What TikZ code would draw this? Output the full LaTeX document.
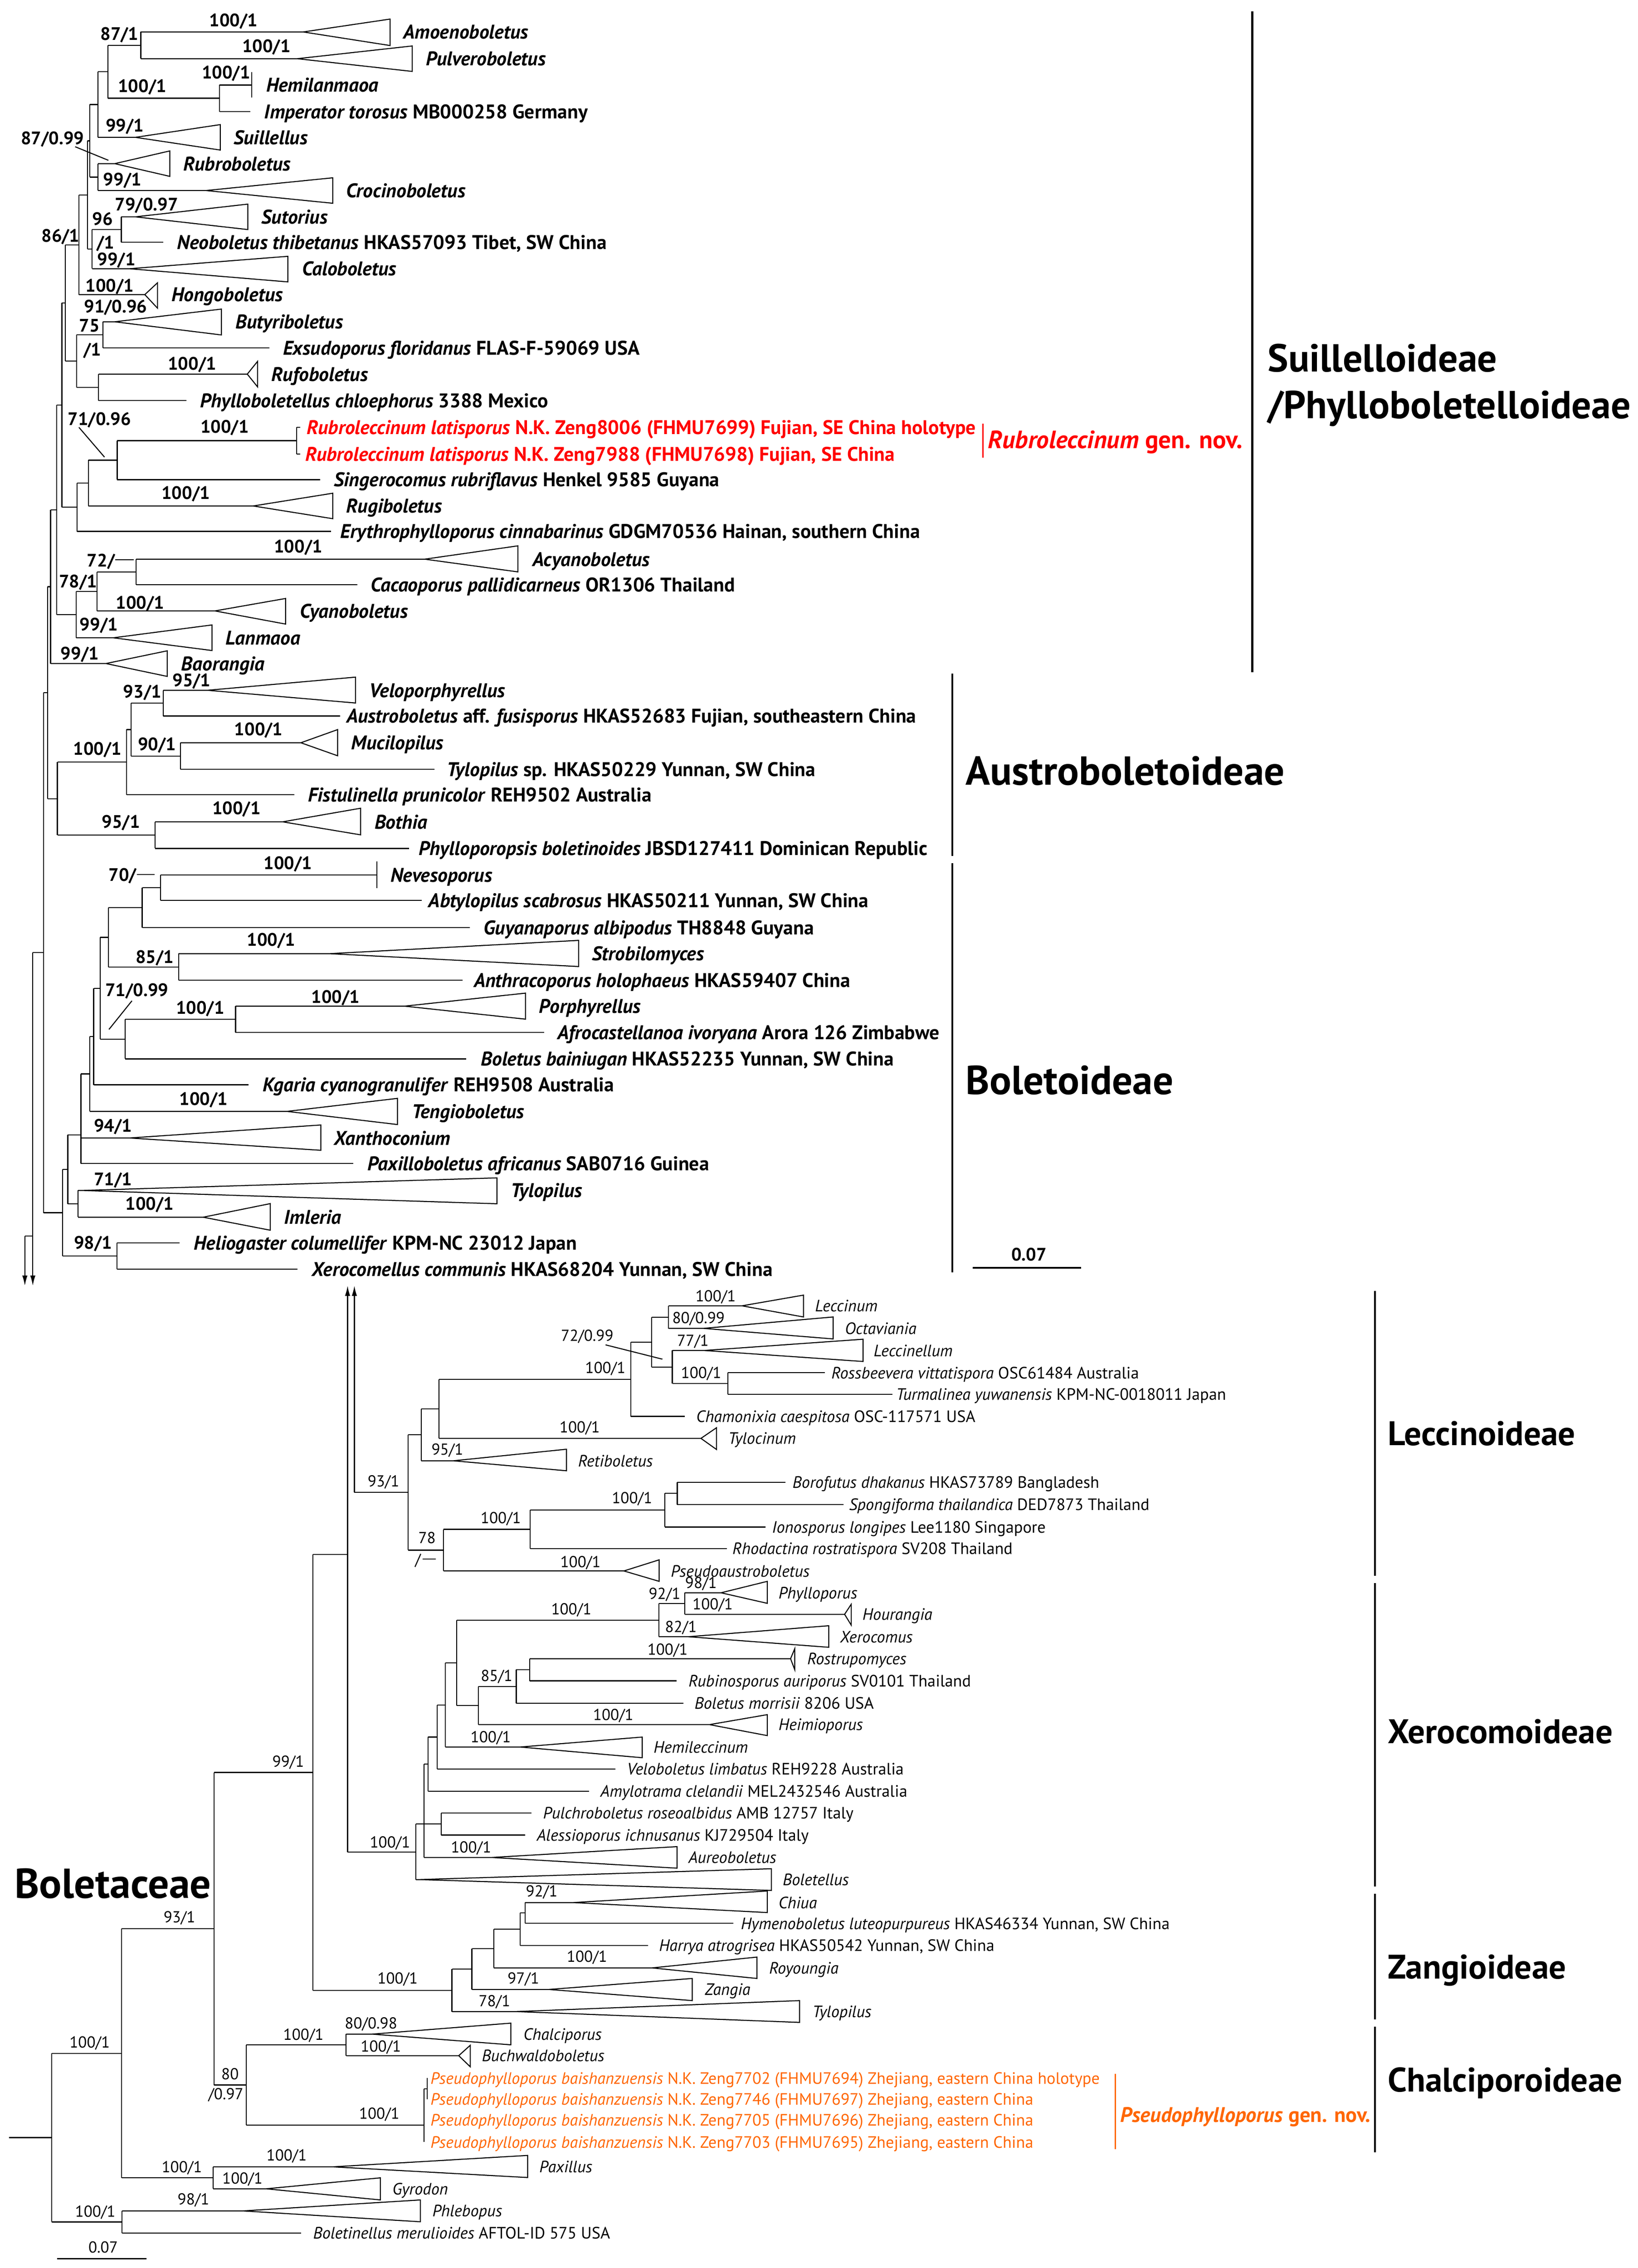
\documentclass[tikz,border=0pt]{standalone}
\usepackage{fontspec}
\setmainfont{PT Sans}
\usetikzlibrary{arrows.meta}
\definecolor{rubro}{RGB}{255,0,0}
\definecolor{pseudo}{RGB}{255,102,0}
\newcounter{nn}
\tikzset{
 tree/.style={line width=0.7pt, line cap=square, line join=miter},
 tlab/.style={anchor=base west, inner sep=0pt, font=\fontsize{13.7}{15}\selectfont\bfseries, yshift=-4.8pt},
 blab/.style={anchor=base west, inner sep=0pt, font=\fontsize{11.4}{12}\selectfont, yshift=-4pt},
 tsup/.style={anchor=base west, inner sep=0pt, font=\fontsize{12.5}{14}\selectfont\bfseries, yshift=-4.4pt},
 bsup/.style={anchor=base west, inner sep=0pt, font=\fontsize{11}{12}\selectfont, yshift=-3.85pt},
 cladeT/.style={anchor=base west, inner sep=0pt, font=\fontsize{27}{30}\selectfont\bfseries},
 cladeM/.style={anchor=base west, inner sep=0pt, font=\fontsize{28}{31}\selectfont\bfseries},
 cladeB/.style={anchor=base west, inner sep=0pt, font=\fontsize{23.6}{27}\selectfont\bfseries},
 bar/.style={line width=1.3pt},
 arr/.style={tree, line cap=butt},
}
\newcommand\hb[3]{\draw[tree] (#1,#3) -- (#2,#3);}
\newcommand\vb[3]{\draw[tree] (#1,#2) -- (#1,#3);}
\newcommand\tri[6]{\draw[tree] (#1,#3) -- (#2,#3) -- (#4,#5) -- (#4,#6) -- (#2,#3);}
\newcommand\Tlab[3]{\stepcounter{nn}\node[tlab] (n\arabic{nn}) at (#1,#2) {#3};}
\newcommand\Blab[3]{\stepcounter{nn}\node[blab] (n\arabic{nn}) at (#1,#2) {#3};}
\newcommand\Tsup[3]{\stepcounter{nn}\node[tsup] (n\arabic{nn}) at (#1,#2) {#3};}
\newcommand\Bsup[3]{\stepcounter{nn}\node[bsup] (n\arabic{nn}) at (#1,#2) {#3};}
\begin{document}
\begin{tikzpicture}[x=1pt,y=-1pt]
\useasboundingbox (0,0) rectangle (1133.3,1568.9);
% ================= TOP TREE =================
\vb{97.4}{22.1}{40.6}
\tri{97.4}{209.8}{22.1}{269.9}{13.2}{31.5}
\tri{97.4}{205.7}{40.6}{285.2}{31.8}{49.4}
\vb{151.8}{58.8}{77.1}
\hb{151.8}{174.2}{58.8}\vb{174.2}{50}{67.6}
\hb{151.8}{173.1}{77.1}
\vb{74.6}{31.35}{67.95}
\hb{74.6}{97.4}{31.35}
\hb{74.6}{151.8}{67.95}
\vb{67.8}{49.65}{95}
\hb{67.8}{74.6}{49.65}
\tri{67.8}{93.7}{95}{152.4}{86.2}{103.8}
\vb{67.8}{113.2}{131.8}
\tri{67.8}{79.4}{113.2}{117.5}{104.4}{122}
\tri{67.8}{142.6}{131.8}{230.2}{123}{140.6}
\vb{62.1}{72.3}{122.5}
\hb{62.1}{67.8}{72.3}
\hb{62.1}{67.8}{122.5}
\vb{83.9}{150}{167.6}
\tri{83.9}{93.7}{150}{171.5}{141.2}{158.8}
\hb{83.9}{113}{167.6}
\vb{63.8}{158.8}{185.9}
\hb{63.8}{83.9}{158.8}
\tri{63.8}{89.6}{185.9}{199.2}{177.3}{195}
\vb{60.5}{97.4}{172.35}
\hb{60.5}{62.1}{97.4}
\hb{60.5}{63.8}{172.35}
\vb{54.6}{134.9}{203.8}
\hb{54.6}{60.5}{134.9}
\tri{54.6}{100.2}{203.8}{109}{195.6}{213.2}
\vb{71.3}{222.6}{240.6}
\tri{71.3}{79.4}{222.6}{153.2}{213.8}{231.7}
\hb{71.3}{186.4}{240.6}
\vb{68.2}{258.8}{277}
\tri{68.2}{171.1}{258.8}{178.2}{250}{267.6}
\hb{68.2}{128.9}{277}
\vb{53}{231.6}{267.9}
\hb{53}{71.3}{231.6}
\hb{53}{68.2}{267.9}
\vb{45.2}{169.35}{249.75}
\hb{45.2}{54.6}{169.35}
\hb{45.2}{53}{249.75}
\vb{205.3}{295.6}{314.1}
\hb{205.3}{207.8}{295.6}
\hb{205.3}{207.8}{314.1}
\vb{81.1}{304.85}{331.8}
\hb{81.1}{205.3}{304.85}
\hb{81.1}{221.6}{331.8}
\vb{61.1}{318.3}{350}
\hb{61.1}{81.1}{318.3}
\tri{61.1}{175.2}{350}{230.2}{341.2}{358.8}
\vb{53.4}{334.15}{367.6}
\hb{53.4}{61.1}{334.15}
\hb{53.4}{229.2}{367.6}
\vb{42.8}{209.55}{350.9}
\hb{42.8}{45.2}{209.55}
\hb{42.8}{53.4}{350.9}
\vb{94.1}{386.8}{404.4}
\tri{94.1}{293.9}{386.8}{358.3}{377.6}{395.6}
\hb{94.1}{247.2}{404.4}
\vb{67.2}{395.6}{422.6}
\hb{67.2}{94.1}{395.6}
\tri{67.2}{148.7}{422.6}{197.6}{414}{431.7}
\vb{52.6}{409.1}{441.2}
\hb{52.6}{67.2}{409.1}
\tri{52.6}{78.4}{441.2}{146.7}{432.3}{450}
\vb{39.3}{280.2}{425.15}
\hb{39.3}{42.8}{280.2}
\hb{39.3}{52.6}{425.15}
\vb{35}{352.7}{459}
\hb{35}{39.3}{352.7}
\tri{35}{73.3}{459}{115.7}{450.2}{467.9}
% Austroboletoideae
\vb{113}{477.5}{495.3}
\tri{113}{143.6}{477.5}{246}{468.4}{486.3}
\hb{113}{235.3}{495.3}
\vb{125}{513.8}{532.2}
\tri{125}{208.2}{513.8}{233.6}{504.7}{522.8}
\hb{125}{300.5}{532.2}
\vb{90.6}{486.4}{523}
\hb{90.6}{113}{486.4}
\hb{90.6}{125}{523}
\vb{87.6}{504.7}{549.8}
\hb{87.6}{90.6}{504.7}
\hb{87.6}{203.7}{549.8}
\vb{107.3}{568.5}{586.9}
\tri{107.3}{195.6}{568.5}{249.5}{559.1}{577.5}
\hb{107.3}{283.1}{586.9}
\vb{39.7}{527.25}{577.7}
\hb{39.7}{87.6}{527.25}
\hb{39.7}{107.3}{577.7}
\vb{33}{405.85}{552.5}
\hb{33}{35}{405.85}
\hb{33}{39.7}{552.5}
% Boletoideae
\vb{111}{605.3}{622.9}
\hb{111}{260.7}{605.3}\vb{260.7}{596}{614.4}
\hb{111}{291.7}{622.9}
\vb{98.4}{614.1}{641.6}
\hb{98.4}{111}{614.1}
\hb{98.4}{325.2}{641.6}
\vb{123.6}{659.7}{678.1}
\tri{123.6}{228.1}{659.7}{400.4}{650.5}{668.6}
\hb{123.6}{320.2}{678.1}
\vb{75}{627.85}{668.9}
\hb{75}{98.4}{627.85}
\hb{75}{123.6}{668.9}
\vb{163}{696}{714.1}
\tri{163}{280}{696}{363.6}{687}{705}
\hb{163}{376.5}{714.1}
\vb{86.6}{705.05}{732.5}
\hb{86.6}{163}{705.05}
\hb{86.6}{322.7}{732.5}
\vb{69.3}{648.4}{718.8}
\hb{69.3}{75}{648.4}
\hb{69.3}{86.6}{718.8}
\vb{64.8}{683.6}{750.4}
\hb{64.8}{69.3}{683.6}
\hb{64.8}{172.1}{750.4}
\vb{62.1}{717}{768.8}
\hb{62.1}{64.8}{717}
\tri{62.1}{198.6}{768.8}{275}{759.8}{777.9}
\vb{56}{742.9}{804.8}
\hb{56}{62.1}{742.9}
\tri{56}{89.6}{787.2}{222}{778.2}{795.7}
\hb{56}{244.4}{804.8}
\vb{54}{823.5}{842}
\tri{54}{57}{823.5}{343.8}{814.8}{832.7}
\tri{54}{140.6}{842}{187}{832.6}{851}
\vb{46.9}{785}{832.75}
\hb{46.9}{56}{785}
\hb{46.9}{54}{832.75}
\vb{80.9}{859.8}{877.9}
\hb{80.9}{124.3}{859.8}
\hb{80.9}{205.7}{877.9}
\vb{43.4}{808.9}{868.85}
\hb{43.4}{46.9}{808.9}
\hb{43.4}{80.9}{868.85}
\vb{30.1}{479.2}{838.9}
\hb{30.1}{33}{479.2}
\hb{30.1}{43.4}{838.9}
\hb{22.7}{30.1}{659}
\draw[arr,-{Latex[length=7pt,width=3.6pt]}] (22.7,659) -- (22.7,889.4);
\hb{17.2}{22.7}{855}
\draw[arr,-{Latex[length=7pt,width=3.6pt]}] (17.2,855) -- (17.2,889.4);
% top labels
\Tlab{279}{22.1}{\textit{Amoenoboletus}}
\Tlab{294.5}{40.6}{\textit{Pulveroboletus}}
\Tlab{184}{58.8}{\textit{Hemilanmaoa}}
\Tlab{182.7}{77.1}{\textit{Imperator torosus} MB000258 Germany}
\Tlab{161.5}{95}{\textit{Suillellus}}
\Tlab{126.7}{113.2}{\textit{Rubroboletus}}
\Tlab{239.4}{131.8}{\textit{Crocinoboletus}}
\Tlab{180.7}{150}{\textit{Sutorius}}
\Tlab{122.4}{167.6}{\textit{Neoboletus thibetanus} HKAS57093 Tibet, SW China}
\Tlab{208.8}{185.9}{\textit{Caloboletus}}
\Tlab{118.5}{203.8}{\textit{Hongoboletus}}
\Tlab{162.9}{222.6}{\textit{Butyriboletus}}
\Tlab{195.6}{240.6}{\textit{Exsudoporus floridanus} FLAS-F-59069 USA}
\Tlab{187.7}{258.8}{\textit{Rufoboletus}}
\Tlab{138.3}{277}{\textit{Phylloboletellus chloephorus} 3388 Mexico}
\Tlab{212}{295.6}{\color{rubro}\textit{Rubroleccinum latisporus} N.K. Zeng8006 (FHMU7699) Fujian, SE China holotype}
\Tlab{211}{314.1}{\color{rubro}\textit{Rubroleccinum latisporus} N.K. Zeng7988 (FHMU7698) Fujian, SE China}
\Tlab{230.9}{331.8}{\textit{Singerocomus rubriflavus} Henkel 9585 Guyana}
\Tlab{239.4}{350}{\textit{Rugiboletus}}
\Tlab{235.3}{367.6}{\textit{Erythrophylloporus cinnabarinus} GDGM70536 Hainan, southern China}
\Tlab{368.2}{386.8}{\textit{Acyanoboletus}}
\Tlab{256.2}{404.4}{\textit{Cacaoporus pallidicarneus} OR1306 Thailand}
\Tlab{207.4}{422.6}{\textit{Cyanoboletus}}
\Tlab{156}{441.2}{\textit{Lanmaoa}}
\Tlab{125.3}{459}{\textit{Baorangia}}
\Tlab{255.5}{477.5}{\textit{Veloporphyrellus}}
\Tlab{239.6}{495.3}{\textit{Austroboletus} aff. \textit{fusisporus} HKAS52683 Fujian, southeastern China}
\Tlab{242.9}{513.8}{\textit{Mucilopilus}}
\Tlab{309}{532.2}{\textit{Tylopilus} sp. HKAS50229 Yunnan, SW China}
\Tlab{213}{549.8}{\textit{Fistulinella prunicolor} REH9502 Australia}
\Tlab{259}{568.5}{\textit{Bothia}}
\Tlab{289.7}{586.9}{\textit{Phylloporopsis boletinoides} JBSD127411 Dominican Republic}
\Tlab{270}{605.3}{\textit{Nevesoporus}}
\Tlab{296.2}{622.9}{\textit{Abtylopilus scabrosus} HKAS50211 Yunnan, SW China}
\Tlab{334.4}{641.6}{\textit{Guyanaporus albipodus} TH8848 Guyana}
\Tlab{409.5}{659.7}{\textit{Strobilomyces}}
\Tlab{327.7}{678.1}{\textit{Anthracoporus holophaeus} HKAS59407 China}
\Tlab{372.8}{696}{\textit{Porphyrellus}}
\Tlab{385.5}{714.1}{\textit{Afrocastellanoa ivoryana} Arora 126 Zimbabwe}
\Tlab{332.6}{732.5}{\textit{Boletus bainiugan} HKAS52235 Yunnan, SW China}
\Tlab{181.6}{750.4}{\textit{Kgaria cyanogranulifer} REH9508 Australia}
\Tlab{284.8}{768.8}{\textit{Tengioboletus}}
\Tlab{231}{787.2}{\textit{Xanthoconium}}
\Tlab{254}{804.8}{\textit{Paxilloboletus africanus} SAB0716 Guinea}
\Tlab{353.2}{823.5}{\textit{Tylopilus}}
\Tlab{196.4}{842}{\textit{Imleria}}
\Tlab{134}{859.8}{\textit{Heliogaster columellifer} KPM-NC 23012 Japan}
\Tlab{215.6}{877.9}{\textit{Xerocomellus communis} HKAS68204 Yunnan, SW China}
% top supports
\Tsup{69.3}{23.5}{87/1}
\Tsup{144.6}{13.8}{100/1}
\Tsup{167.4}{31.8}{100/1}
\Tsup{139.5}{50}{100/1}
\Tsup{81.5}{59.4}{100/1}
\Tsup{73}{86.8}{99/1}
\Tsup{14.3}{95.6}{87/0.99}
\draw[tree,line cap=butt] (52,101.5) -- (75,110.9);
\Tsup{71.3}{124}{99/1}
\Tsup{79.4}{141.2}{79/0.97}
\Tsup{63.8}{151.5}{96}
\Tsup{66.8}{167.6}{/1}
\Tsup{28.5}{163}{86/1}
\Tsup{67.2}{179.4}{99/1}
\Tsup{59}{197.6}{100/1}
\Tsup{58}{212}{91/0.96}
\Tsup{54.6}{225}{75}
\Tsup{57.6}{241.7}{/1}
\Tsup{116}{251.5}{100/1}
\Tsup{46.8}{289.7}{71/0.96}
\draw[tree,line cap=butt] (54.6,295.6) -- (72.3,316.2);
\Tsup{138.5}{295}{100/1}
\Tsup{111.6}{341}{100/1}
\Tsup{189.4}{378}{100/1}
\Tsup{60}{387.6}{72/}
\draw[tree,line cap=butt] (79.8,387.3) -- (92.7,387.3);
\Tsup{40.7}{402}{78/1}
\Tsup{80}{417}{100/1}
\Tsup{55}{432}{99/1}
\Tsup{41.8}{452}{99/1}
\Tsup{85.1}{478.3}{93/1}
\Tsup{119.2}{470.4}{95/1}
\Tsup{162}{504.4}{100/1}
\Tsup{95.3}{514.6}{90/1}
\Tsup{50.5}{518}{100/1}
\Tsup{70.3}{568.5}{95/1}
\Tsup{146.7}{559}{100/1}
\Tsup{75}{605}{70/}
\draw[tree,line cap=butt] (94.7,605) -- (107,605);
\Tsup{182.3}{596.8}{100/1}
\Tsup{170.7}{650}{100/1}
\Tsup{93.7}{662}{85/1}
\Tsup{72.7}{684.7}{71/0.99}
\draw[tree,line cap=butt] (91.3,692.3) -- (75.4,712.1);
\Tsup{121.6}{697}{100/1}
\Tsup{215.3}{689.5}{100/1}
\Tsup{123.9}{760}{100/1}
\Tsup{64.8}{778.7}{94/1}
\Tsup{64.8}{815.6}{71/1}
\Tsup{86.6}{832.6}{100/1}
\Tsup{51}{859.5}{98/1}
% top scale
\draw[line width=1pt] (673,877) -- (748,877);
\node[anchor=base, inner sep=0pt, font=\fontsize{12.5}{14}\selectfont\bfseries] (sc1) at (712,872) {0.07};
% clade bars top
\draw[bar] (866.5,8) -- (866.5,465);
\node[cladeT] (c1) at (877,257) {Suillelloideae};
\node[cladeT] (c2) at (877,289.4) {/Phylloboletelloideae};
\draw[rubro, line width=0.9pt] (680,293.1) -- (680,316.5);
\node[anchor=base west, inner sep=0pt, font=\fontsize{17.3}{19}\selectfont\bfseries, text=rubro] (c3) at (683.5,310.2) {\textit{Rubroleccinum} gen. nov.};
\draw[bar] (659,466) -- (659,592);
\node[cladeM] (c4) at (668,543) {Austroboletoideae};
\draw[bar] (659,597) -- (659,880);
\node[cladeM] (c5) at (668,757) {Boletoideae};
% ================= BOTTOM TREE =================
\draw[arr,{Latex[length=7pt,width=3.6pt]}-] (245.2,889.4) -- (245.2,1032.4);
\hb{245.2}{282.5}{1032.4}
\draw[arr,{Latex[length=7pt,width=3.6pt]}-] (240.5,889.4) -- (240.5,1281.1);
\hb{240.5}{287.7}{1281.1}
\hb{216.5}{240.5}{1075.4}
% Leccinoideae
\vb{462.6}{903.3}{918.9}
\tri{462.6}{513.4}{903.3}{555.9}{895.9}{911}
\tri{462.6}{486.7}{918.9}{576.5}{911}{926.2}
\vb{503.7}{949.6}{964.6}
\hb{503.7}{570.9}{949.6}
\hb{503.7}{617.6}{964.6}
\vb{465.2}{934.2}{957.1}
\tri{465.2}{487.3}{934.2}{597.2}{926.4}{941.8}
\hb{465.2}{503.7}{957.1}
\vb{451}{911.1}{945.65}
\hb{451}{462.6}{911.1}
\hb{451}{465.2}{945.65}
\vb{436.4}{928.4}{979.8}
\hb{436.4}{451}{928.4}
\hb{436.4}{473.7}{979.8}
\vb{303.7}{954.1}{995}
\hb{303.7}{436.4}{954.1}
\tri{303.7}{485}{995}{495.8}{987.6}{1002.7}
\vb{291.4}{974.55}{1010.5}
\hb{291.4}{303.7}{974.55}
\tri{291.4}{313.7}{1010.5}{392}{1002.5}{1017.4}
\vb{468.6}{1025.4}{1040.7}
\hb{468.6}{543.4}{1025.4}
\hb{468.6}{583.6}{1040.7}
\vb{460}{1033}{1056.3}
\hb{460}{468.6}{1033}
\hb{460}{529.8}{1056.3}
\vb{366.8}{1044.65}{1071.2}
\hb{366.8}{460}{1044.65}
\hb{366.8}{502.9}{1071.2}
\vb{306.9}{1057.9}{1086.7}
\hb{306.9}{366.8}{1057.9}
\tri{306.9}{431.7}{1086.7}{456.1}{1079}{1093.9}
\vb{282.5}{992.5}{1072.3}
\hb{282.5}{291.4}{992.5}
\hb{282.5}{306.9}{1072.3}
% Xerocomoideae
\vb{473.9}{1101.8}{1116.7}
\tri{473.9}{498.9}{1101.8}{530.9}{1093.9}{1109.1}
\tri{473.9}{584.4}{1116.7}{589}{1109.7}{1124.2}
\vb{455.8}{1109.25}{1132.2}
\hb{455.8}{473.9}{1109.25}
\tri{455.8}{476.2}{1132.2}{573.4}{1124.6}{1139.5}
\vb{366.5}{1147.4}{1162.7}
\tri{366.5}{547}{1147.4}{549.9}{1140.5}{1155}
\hb{366.5}{468.2}{1162.7}
\vb{357.2}{1155.05}{1178.2}
\hb{357.2}{366.5}{1155.05}
\hb{357.2}{472.8}{1178.2}
\vb{331.1}{1166.6}{1193}
\hb{331.1}{357.2}{1166.6}
\tri{331.1}{490.9}{1193}{530.9}{1186.1}{1200.6}
\vb{316}{1120.7}{1179.8}
\hb{316}{455.8}{1120.7}
\hb{316}{331.1}{1179.8}
\vb{308.1}{1150.25}{1208.5}
\hb{308.1}{316}{1150.25}
\tri{308.1}{360}{1208.5}{444.4}{1201.6}{1215.9}
\vb{302.5}{1179.4}{1223.8}
\hb{302.5}{308.1}{1179.4}
\hb{302.5}{425.7}{1223.8}
\vb{296.2}{1201.6}{1239.1}
\hb{296.2}{302.5}{1201.6}
\hb{296.2}{407.6}{1239.1}
\vb{305.3}{1254.2}{1269.4}
\hb{305.3}{367.9}{1254.2}
\hb{305.3}{363.4}{1269.4}
\vb{293.4}{1220.35}{1284.9}
\hb{293.4}{296.2}{1220.35}
\hb{293.4}{305.3}{1261.8}
\tri{293.4}{340.1}{1284.9}{468.5}{1277.4}{1292.3}
\vb{287.7}{1261.8}{1300.2}
\hb{287.7}{293.4}{1261.8}
\tri{287.7}{290}{1300.2}{533.7}{1292.7}{1307.7}
% Zangioideae
\vb{363.4}{1316.1}{1330.5}
\tri{363.4}{396.8}{1316.1}{530.9}{1308.1}{1323}
\hb{363.4}{507.4}{1330.5}
\vb{360}{1323.3}{1345.8}
\hb{360}{363.4}{1323.3}
\hb{360}{448.4}{1345.8}
\vb{341.6}{1334.55}{1361.3}
\hb{341.6}{360}{1334.55}
\tri{341.6}{451.2}{1361.3}{523.8}{1353.8}{1368.6}
\vb{326.5}{1347.9}{1376.2}
\hb{326.5}{341.6}{1347.9}
\tri{326.5}{379.8}{1376.2}{479}{1368.6}{1383.9}
\vb{312.7}{1362.05}{1391.5}
\hb{312.7}{326.5}{1362.05}
\tri{312.7}{357.2}{1391.5}{553.3}{1383.9}{1399}
\vb{216.5}{1075.4}{1376.8}
\hb{216.5}{312.7}{1376.8}
% Chalciporoideae
\vb{239.5}{1407.1}{1422}
\tri{239.5}{257.5}{1407.1}{353.5}{1399.5}{1414.5}
\tri{239.5}{317.4}{1422}{325.4}{1414.8}{1429.7}
\vb{295.5}{1437.5}{1452.3}
\vb{293.3}{1444.9}{1481.8}
\hb{293.3}{295.5}{1444.9}
\vb{170.4}{1414.55}{1470.1}
\hb{170.4}{239.5}{1414.55}
\hb{170.4}{293.3}{1470.1}
\vb{148.1}{1226.1}{1442.3}
\hb{148.1}{216.5}{1226.1}
\hb{148.1}{170.4}{1442.3}
% Paxillaceae etc.
\vb{147.4}{1498.9}{1514.1}
\tri{147.4}{230.3}{1498.9}{365.1}{1491}{1506.3}
\tri{147.4}{184.2}{1514.1}{263.2}{1506.5}{1521.8}
\vb{84.1}{1334.2}{1506.5}
\hb{84.1}{148.1}{1334.2}
\hb{84.1}{147.4}{1506.5}
\vb{84.5}{1529.4}{1544.6}
\tri{84.5}{168.1}{1529.4}{290.9}{1521.8}{1536.9}
\hb{84.5}{208.4}{1544.6}
\vb{35.7}{1420.35}{1537}
\hb{35.7}{84.1}{1420.35}
\hb{35.7}{84.5}{1537}
\hb{6.4}{35.7}{1478.7}
% bottom labels
\Blab{563.8}{903.3}{\textit{Leccinum}}
\Blab{584.5}{918.9}{\textit{Octaviania}}
\Blab{604.3}{934.2}{\textit{Leccinellum}}
\Blab{575.1}{949.6}{\textit{Rossbeevera vittatispora} OSC61484 Australia}
\Blab{619.9}{964.6}{\textit{Turmalinea yuwanensis} KPM-NC-0018011 Japan}
\Blab{481.6}{979.8}{\textit{Chamonixia caespitosa} OSC-117571 USA}
\Blab{503.7}{995}{\textit{Tylocinum}}
\Blab{399.8}{1010.5}{\textit{Retiboletus}}
\Blab{548.2}{1025.4}{\textit{Borofutus dhakanus} HKAS73789 Bangladesh}
\Blab{587.3}{1040.7}{\textit{Spongiforma thailandica} DED7873 Thailand}
\Blab{534}{1056.3}{\textit{Ionosporus longipes} Lee1180 Singapore}
\Blab{506.6}{1071.2}{\textit{Rhodactina rostratispora} SV208 Thailand}
\Blab{464}{1086.7}{\textit{Pseudoaustroboletus}}
\Blab{538.5}{1101.8}{\textit{Phylloporus}}
\Blab{596.6}{1116.7}{\textit{Hourangia}}
\Blab{581}{1132.2}{\textit{Xerocomus}}
\Blab{558.4}{1147.4}{\textit{Rostrupomyces}}
\Blab{476.2}{1162.7}{\textit{Rubinosporus auriporus} SV0101 Thailand}
\Blab{480.4}{1178.2}{\textit{Boletus morrisii} 8206 USA}
\Blab{538.5}{1193}{\textit{Heimioporus}}
\Blab{452.1}{1208.5}{\textit{Hemileccinum}}
\Blab{433.7}{1223.8}{\textit{Veloboletus limbatus} REH9228 Australia}
\Blab{415.3}{1239.1}{\textit{Amylotrama clelandii} MEL2432546 Australia}
\Blab{375.6}{1254.2}{\textit{Pulchroboletus roseoalbidus} AMB 12757 Italy}
\Blab{371.3}{1269.4}{\textit{Alessioporus ichnusanus} KJ729504 Italy}
\Blab{476.2}{1284.9}{\textit{Aureoboletus}}
\Blab{541.4}{1300.2}{\textit{Boletellus}}
\Blab{538.5}{1316.1}{\textit{Chiua}}
\Blab{512.5}{1330.5}{\textit{Hymenoboletus luteopurpureus} HKAS46334 Yunnan, SW China}
\Blab{455.8}{1345.8}{\textit{Harrya atrogrisea} HKAS50542 Yunnan, SW China}
\Blab{532}{1361.3}{\textit{Royoungia}}
\Blab{487.5}{1376.2}{\textit{Zangia}}
\Blab{562}{1391.5}{\textit{Tylopilus}}
\Blab{362}{1407.1}{\textit{Chalciporus}}
\Blab{333.2}{1422}{\textit{Buchwaldoboletus}}
\Blab{297.7}{1437.5}{\color{pseudo}\textit{Pseudophylloporus baishanzuensis} N.K. Zeng7702 (FHMU7694) Zhejiang, eastern China holotype}
\Blab{297.7}{1452.1}{\color{pseudo}\textit{Pseudophylloporus baishanzuensis} N.K. Zeng7746 (FHMU7697) Zhejiang, eastern China}
\Blab{297.7}{1466.5}{\color{pseudo}\textit{Pseudophylloporus baishanzuensis} N.K. Zeng7705 (FHMU7696) Zhejiang, eastern China}
\Blab{297.7}{1481.8}{\color{pseudo}\textit{Pseudophylloporus baishanzuensis} N.K. Zeng7703 (FHMU7695) Zhejiang, eastern China}
\Blab{373}{1498.9}{\textit{Paxillus}}
\Blab{271.3}{1514.1}{\textit{Gyrodon}}
\Blab{299}{1529.4}{\textit{Phlebopus}}
\Blab{216.5}{1544.6}{\textit{Boletinellus merulioides} AFTOL-ID 575 USA}
% bottom supports
\Bsup{481}{896.6}{100/1}
\Bsup{465}{911.5}{80/0.99}
\Bsup{468.3}{927.4}{77/1}
\Bsup{471}{949.6}{100/1}
\Bsup{388}{923.7}{72/0.99}
\draw[tree,line cap=butt] (419,930.3) -- (458.3,940.2);
\Bsup{404.7}{946.2}{100/1}
\Bsup{387}{987.3}{100/1}
\Bsup{298.4}{1002.5}{95/1}
\Bsup{254.2}{1024.7}{93/1}
\Bsup{289.3}{1063.8}{78}
\Bsup{287}{1078.7}{/}
\draw[tree,line cap=butt] (292.5,1078.4) -- (301.4,1078.4);
\Bsup{332.4}{1050}{100/1}
\Bsup{423.2}{1036.3}{100/1}
\Bsup{387.5}{1080.4}{100/1}
\Bsup{473.9}{1094.9}{98/1}
\Bsup{448.7}{1102.4}{92/1}
\Bsup{479}{1109.7}{100/1}
\Bsup{460}{1125.2}{82/1}
\Bsup{381.2}{1113.1}{100/1}
\Bsup{447.8}{1140.9}{100/1}
\Bsup{332.5}{1159.3}{85/1}
\Bsup{410.2}{1186}{100/1}
\Bsup{325.4}{1201.6}{100/1}
\Bsup{311.8}{1277.8}{100/1}
\Bsup{255.7}{1274.2}{100/1}
\Bsup{188.3}{1218.5}{99/1}
\Bsup{363.7}{1308.1}{92/1}
\Bsup{392}{1353.4}{100/1}
\Bsup{351}{1368.6}{97/1}
\Bsup{331}{1384.1}{78/1}
\Bsup{261}{1368.6}{100/1}
\Bsup{113}{1326}{93/1}
\Bsup{238.4}{1399.5}{80/0.98}
\Bsup{249.4}{1415.4}{100/1}
\Bsup{195.8}{1407.5}{100/1}
\Bsup{153}{1434.6}{80}
\Bsup{144}{1448.5}{/0.97}
\Bsup{248.3}{1462}{100/1}
\Bsup{47.9}{1412.8}{100/1}
\Bsup{184.2}{1490.9}{100/1}
\Bsup{111.7}{1498.9}{100/1}
\Bsup{153.6}{1506.9}{100/1}
\Bsup{122.7}{1521.4}{98/1}
\Bsup{51.8}{1529.8}{100/1}
% bottom scale
\draw[line width=1pt] (39.6,1562.5) -- (101.3,1562.5);
\Bsup{61}{1554.6}{0.07}
% bottom clade bars
\draw[bar] (951.5,893) -- (951.5,1090);
\node[cladeB] (c6) at (960,1000) {Leccinoideae};
\draw[bar] (951.5,1095) -- (951.5,1305);
\node[cladeB] (c7) at (960,1206) {Xerocomoideae};
\draw[bar] (951.5,1310) -- (951.5,1397);
\node[cladeB] (c8) at (960,1369) {Zangioideae};
\draw[bar] (951.5,1402) -- (951.5,1489);
\node[cladeB] (c9) at (960,1447) {Chalciporoideae};
\draw[pseudo, line width=0.9pt] (771.6,1434.7) -- (771.6,1486.8);
\node[anchor=base west, inner sep=0pt, font=\fontsize{14.6}{16}\selectfont\bfseries, text=pseudo] (c10) at (775,1468) {\textit{Pseudophylloporus} gen. nov.};
\node[anchor=base west, inner sep=0pt, font=\fontsize{28.9}{32}\selectfont\bfseries] (c11) at (10,1313) {Boletaceae};
\end{tikzpicture}
\end{document}
